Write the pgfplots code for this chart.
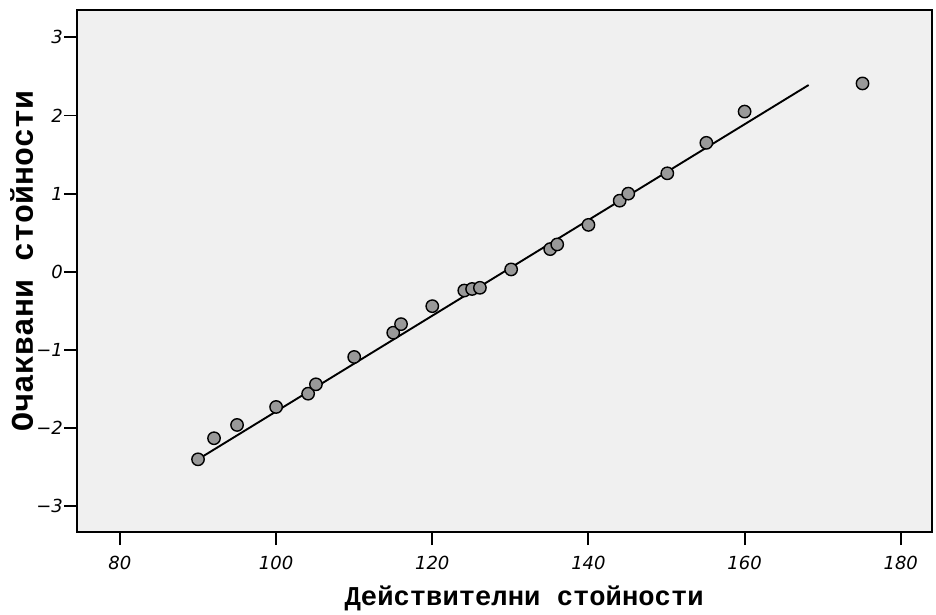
\documentclass[border=0pt]{standalone}
\usepackage{pgfplots}
\pgfplotsset{compat=1.18}
\usepackage{fontspec}
\setmainfont{Liberation Mono}
\newfontfamily\tickfont{DejaVu Sans}
\definecolor{bgc}{HTML}{F0F0F0}
\definecolor{ptc}{HTML}{999999}
\begin{document}
\begin{tikzpicture}
\begin{axis}[
  scale only axis,
  width=855pt, height=522pt,
  xmin=74.5, xmax=184, ymin=-3.33, ymax=3.35,
  axis background/.style={fill=bgc},
  axis line style={line width=1.9pt},
  tick style={line width=1.9pt, black},
  tick align=outside, major tick length=13pt,
  tick pos=left,
  xtick={80,100,120,140,160,180},
  xticklabels={80,100,120,140,160,180},
  ytick={-3,-2,-1,0,1,2,3},
  yticklabels={−3,−2,−1,0,1,2,3},
  ticklabel style={font=\tickfont\itshape\fontsize{18}{21}\selectfont},
  xticklabel style={inner sep=0pt, yshift=-11pt, anchor=north},
  yticklabel style={inner sep=0pt, xshift=-1pt, anchor=east},
  xlabel={\bfseries\fontsize{27.2}{30}\selectfont Действителни  стойности},
  ylabel={\bfseries\fontsize{31.5}{34}\selectfont Очаквани  стойности},
  xlabel style={at={(axis description cs:0.523,0)}, anchor=base, yshift=-73pt},
  ylabel style={at={(axis description cs:0,0.519)}, anchor=base, yshift=44pt},
]
\addplot[black, line width=1.9pt] coordinates {(90,-2.40) (168.2,2.39)};
\addplot[only marks, mark=*, mark size=6.2pt, mark options={fill=ptc, draw=black, line width=1.4pt}] coordinates {
(90,-2.40) (92.05,-2.13) (95,-1.96) (100,-1.73) (104.1,-1.56) (105.1,-1.44)
(110,-1.09) (115,-0.78) (116,-0.67) (120,-0.44) (124.1,-0.24) (125.1,-0.22)
(126.1,-0.205) (130.1,0.03) (135.1,0.29) (136,0.35) (140,0.60) (144,0.91)
(145.1,1.00) (150.1,1.26) (155.1,1.65) (160,2.05) (175.1,2.41)
};
\end{axis}
\pgfresetboundingbox
\useasboundingbox ([xshift=-77pt,yshift=-83pt]current axis.south west) rectangle ([xshift=4pt,yshift=10pt]current axis.north east);
\end{tikzpicture}
\end{document}
